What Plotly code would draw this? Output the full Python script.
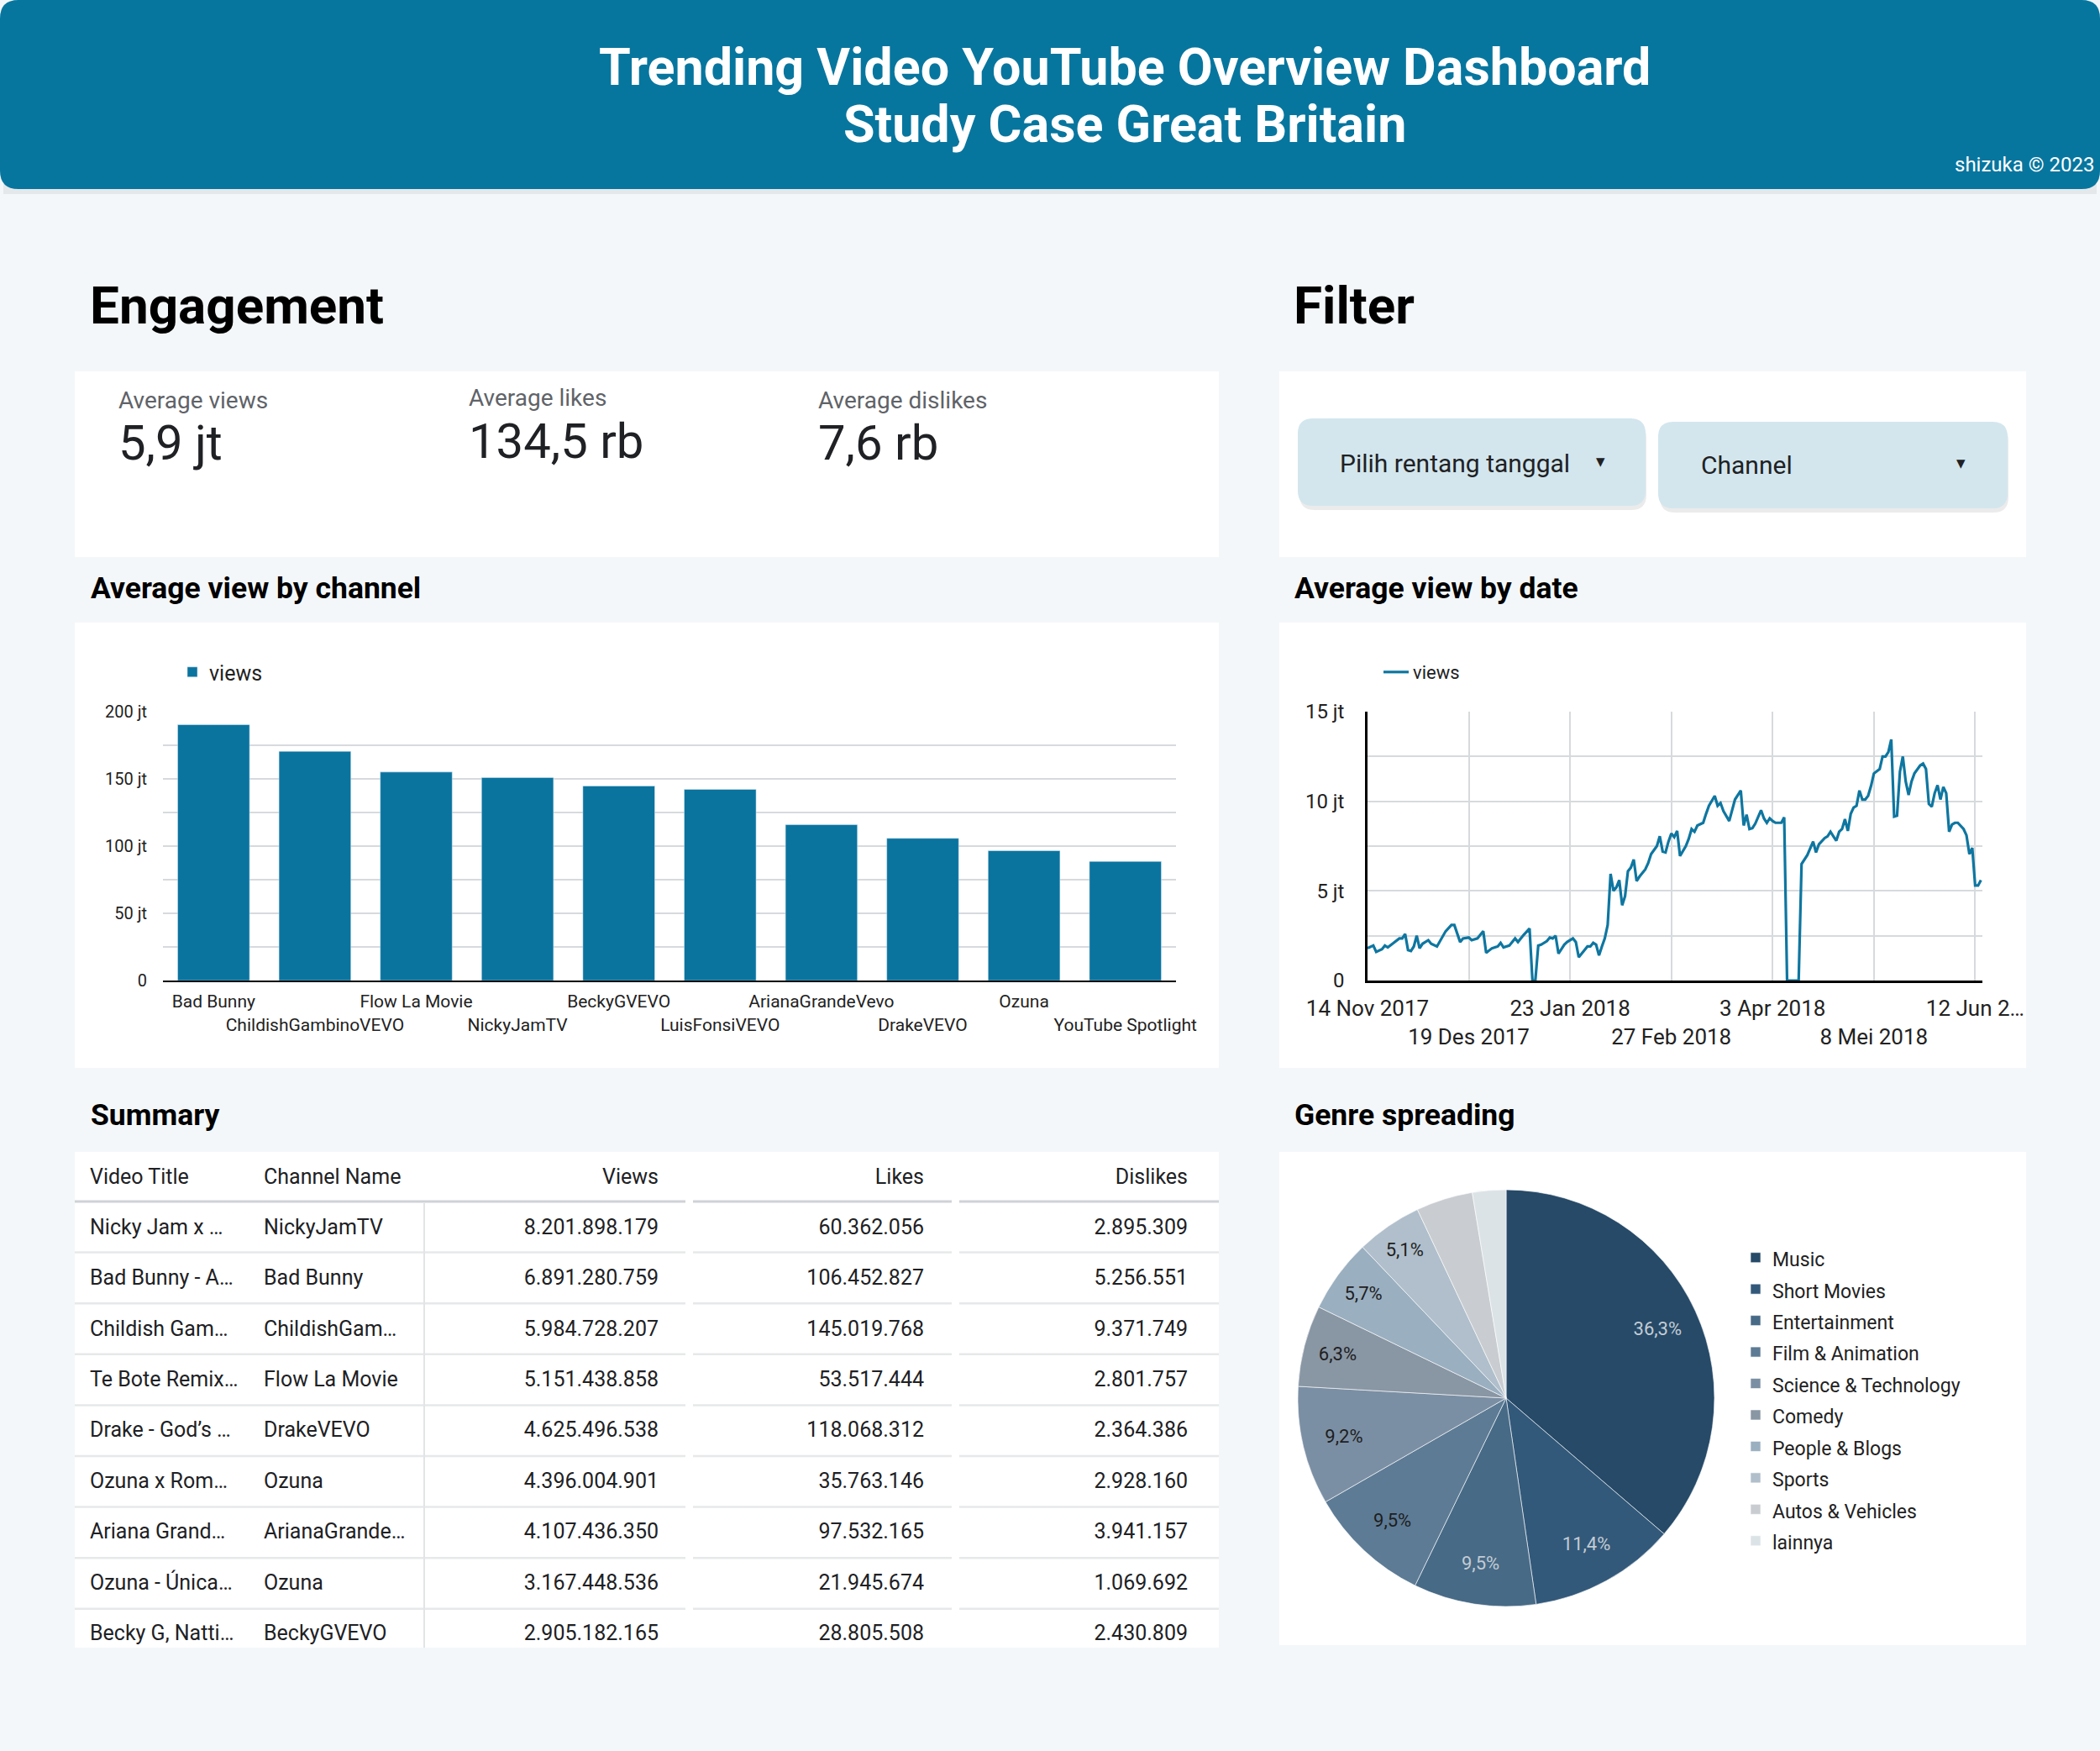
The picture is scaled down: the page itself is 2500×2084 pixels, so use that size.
import plotly.graph_objects as go

W, H = 2500, 2084
FONT = "Roboto"


def px(x):
    return x / W


def py(y):
    return 1 - y / H


# ---------------- DATA ----------------
kpi_labels = ["Average views", "Average likes", "Average dislikes"]
kpi_values = ["5,9 jt", "134,5 rb", "7,6 rb"]

channels = ["Bad Bunny", "ChildishGambinoVEVO", "Flow La Movie", "NickyJamTV", "BeckyGVEVO",
            "LuisFonsiVEVO", "ArianaGrandeVevo", "DrakeVEVO", "Ozuna", "YouTube Spotlight"]
channel_views_jt = [190.3, 170.5, 155.1, 151.0, 144.7, 142.2, 115.9, 105.8, 96.6, 88.6]
bar_tick_vals = [0, 25, 50, 75, 100, 125, 150, 175, 200]
bar_tick_text = ["0", "", "50 jt", "", "100 jt", "", "150 jt", "", "200 jt"]

dates = [
    "2017-11-14", "2017-11-16", "2017-11-17", "2017-11-19", "2017-11-20", "2017-11-21", "2017-11-23",
    "2017-11-25", "2017-11-26", "2017-11-27", "2017-11-28", "2017-11-29", "2017-11-30", "2017-12-01",
    "2017-12-02", "2017-12-03", "2017-12-05", "2017-12-06", "2017-12-08", "2017-12-09", "2017-12-11",
    "2017-12-13", "2017-12-14", "2017-12-16", "2017-12-17", "2017-12-19", "2017-12-20", "2017-12-22",
    "2017-12-24", "2017-12-25", "2017-12-27", "2017-12-29", "2017-12-30", "2017-12-31", "2018-01-02",
    "2018-01-04", "2018-01-05", "2018-01-07", "2018-01-08", "2018-01-09", "2018-01-10", "2018-01-11",
    "2018-01-12", "2018-01-13", "2018-01-15", "2018-01-16", "2018-01-17", "2018-01-18", "2018-01-19",
    "2018-01-21", "2018-01-22", "2018-01-24", "2018-01-25", "2018-01-26", "2018-01-28", "2018-01-29",
    "2018-01-30", "2018-01-31", "2018-02-01", "2018-02-02", "2018-02-03", "2018-02-04", "2018-02-05",
    "2018-02-06", "2018-02-07", "2018-02-08", "2018-02-09", "2018-02-10", "2018-02-11", "2018-02-12",
    "2018-02-13", "2018-02-14", "2018-02-15", "2018-02-16", "2018-02-18", "2018-02-19", "2018-02-20",
    "2018-02-22", "2018-02-23", "2018-02-24", "2018-02-25", "2018-02-26", "2018-02-27", "2018-02-28",
    "2018-03-01", "2018-03-02", "2018-03-04", "2018-03-05", "2018-03-06", "2018-03-07", "2018-03-08",
    "2018-03-10", "2018-03-11", "2018-03-12", "2018-03-14", "2018-03-15", "2018-03-16", "2018-03-17",
    "2018-03-19", "2018-03-20", "2018-03-21", "2018-03-23", "2018-03-24", "2018-03-25", "2018-03-26",
    "2018-03-27", "2018-03-28", "2018-03-30", "2018-03-31", "2018-04-01", "2018-04-02", "2018-04-03",
    "2018-04-04", "2018-04-05", "2018-04-06", "2018-04-07", "2018-04-08", "2018-04-09", "2018-04-10",
    "2018-04-11", "2018-04-12", "2018-04-13", "2018-04-15", "2018-04-17", "2018-04-18", "2018-04-19",
    "2018-04-21", "2018-04-22", "2018-04-23", "2018-04-24", "2018-04-25", "2018-04-26", "2018-04-27",
    "2018-04-28", "2018-04-29", "2018-04-30", "2018-05-01", "2018-05-02", "2018-05-03", "2018-05-04",
    "2018-05-05", "2018-05-06", "2018-05-07", "2018-05-08", "2018-05-10", "2018-05-11", "2018-05-12",
    "2018-05-13", "2018-05-14", "2018-05-15", "2018-05-16", "2018-05-17", "2018-05-18", "2018-05-19",
    "2018-05-20", "2018-05-21", "2018-05-22", "2018-05-24", "2018-05-25", "2018-05-26", "2018-05-27",
    "2018-05-28", "2018-05-29", "2018-05-30", "2018-05-31", "2018-06-01", "2018-06-02", "2018-06-03",
    "2018-06-04", "2018-06-05", "2018-06-06", "2018-06-08", "2018-06-09", "2018-06-10", "2018-06-11",
    "2018-06-12", "2018-06-13", "2018-06-14",
]
avg_views_jt = [
    1.8, 1.95, 1.6, 1.75, 1.95, 1.85, 2.1,
    2.35, 2.35, 2.6, 1.7, 1.65, 1.9, 2.5,
    1.8, 2.05, 2.25, 2.05, 1.9, 2.2, 2.75,
    3.1, 3.1, 2.15, 2.35, 2.4, 2.25, 2.35,
    2.75, 1.55, 1.8, 1.9, 2.1, 1.85, 1.95,
    2.35, 2.15, 2.55, 2.7, 2.9, 0.0, 0.0,
    1.95, 2.0, 2.2, 2.4, 2.35, 2.5, 1.5,
    2.0, 2.15, 2.35, 2.15, 1.3, 1.7, 1.9,
    1.9, 2.1, 2.0, 1.4, 1.9, 2.35, 3.1,
    5.95, 5.0, 5.2, 5.6, 4.2, 4.7, 6.1,
    6.3, 6.75, 5.55, 5.8, 6.2, 6.55, 7.05,
    7.5, 8.05, 7.2, 7.15, 7.75, 8.2, 8.0,
    8.35, 6.95, 7.5, 7.9, 8.45, 8.3, 8.65,
    8.8, 9.3, 9.75, 10.3, 9.75, 9.9, 9.45,
    8.9, 9.45, 10.1, 10.6, 8.65, 9.25, 8.45,
    8.5, 8.75, 9.5, 9.05, 8.8, 9.05, 8.9,
    8.8, 8.8, 8.8, 9.1, 0.0, 0.0, 0.0,
    0.0, 0.0, 6.5, 7.0, 7.75, 7.15, 7.6,
    7.95, 8.05, 8.3, 8.05, 7.8, 8.3, 8.45,
    9.0, 8.35, 9.3, 9.65, 9.75, 10.6, 10.1,
    10.1, 10.3, 10.85, 11.55, 11.8, 12.5, 12.5,
    12.75, 13.45, 9.15, 9.2, 11.65, 12.5, 11.1,
    10.35, 11.1, 11.55, 12.0, 12.1, 11.8, 9.85,
    9.7, 10.45, 10.9, 10.1, 10.8, 10.45, 8.3,
    8.7, 8.8, 8.8, 8.45, 8.1, 7.05, 7.4,
    5.3, 5.3, 5.6,
]
date_tick_vals = ["2017-11-14", "2017-12-19", "2018-01-23", "2018-02-27", "2018-04-03", "2018-05-08", "2018-06-12"]
date_tick_text = ["14 Nov 2017", "19 Des 2017", "23 Jan 2018", "27 Feb 2018", "3 Apr 2018", "8 Mei 2018", "12 Jun 2…"]
line_tick_vals = [0, 2.5, 5, 7.5, 10, 12.5, 15]
line_tick_text = ["0", "", "5 jt", "", "10 jt", "", "15 jt"]

table_headers = ["Video Title", "Channel Name", "Views", "Likes", "Dislikes"]
video_titles = ["Nicky Jam x …", "Bad Bunny - A…", "Childish Gam…", "Te Bote Remix…", "Drake - God’s …",
                "Ozuna x Rom…", "Ariana Grand…", "Ozuna - Única…", "Becky G, Natti…"]
channel_names = ["NickyJamTV", "Bad Bunny", "ChildishGam…", "Flow La Movie", "DrakeVEVO",
                 "Ozuna", "ArianaGrande…", "Ozuna", "BeckyGVEVO"]
views = [8201898179, 6891280759, 5984728207, 5151438858, 4625496538, 4396004901, 4107436350, 3167448536, 2905182165]
likes = [60362056, 106452827, 145019768, 53517444, 118068312, 35763146, 97532165, 21945674, 28805508]
dislikes = [2895309, 5256551, 9371749, 2801757, 2364386, 2928160, 3941157, 1069692, 2430809]

genres = ["Music", "Short Movies", "Entertainment", "Film & Animation", "Science & Technology",
          "Comedy", "People & Blogs", "Sports", "Autos & Vehicles", "lainnya"]
genre_share = [36.3, 11.4, 9.5, 9.5, 9.2, 6.3, 5.7, 5.1, 4.4, 2.6]

# ---------------- STYLE ----------------
BG = "#f4f7f9"
HEADER = "#07769f"
BAR = "#0a749f"
LINE = "#0e76a0"
GRID = "#d7dadd"
genre_colors = ["#264a68", "#33597a", "#476a86", "#5d7b95", "#7b8fa4",
                "#8996a4", "#9aafc0", "#b0bfcb", "#c9cdd1", "#dce3e7"]
genre_text_colors = ["#c3ccd4", "#c3ccd4", "#c3ccd4"] + ["#1e1e1e"] * 7


def fmt_id(n):
    return f"{n:,}".replace(",", ".")


def nb(s):
    return s.replace(" ", "\u00a0")


def rounded(x0, y0, x1, y1, r):
    rx, ry = r / W, r / H
    X0, X1, Y0, Y1 = px(x0), px(x1), py(y0), py(y1)
    return (f"M {X0+rx},{Y0} L {X1-rx},{Y0} Q {X1},{Y0} {X1},{Y0-ry} "
            f"L {X1},{Y1+ry} Q {X1},{Y1} {X1-rx},{Y1} L {X0+rx},{Y1} "
            f"Q {X0},{Y1} {X0},{Y1+ry} L {X0},{Y0-ry} Q {X0},{Y0} {X0+rx},{Y0} Z")


fig = go.Figure()

# Bar chart
fig.add_trace(go.Bar(
    x=channels, y=channel_views_jt, name="views", marker_color=BAR,
    xaxis="x", yaxis="y", legend="legend", showlegend=True,
))

# Line chart
fig.add_trace(go.Scatter(
    x=dates, y=avg_views_jt, mode="lines", name="views",
    line=dict(color=LINE, width=3.2), xaxis="x2", yaxis="y2",
    legend="legend2", showlegend=True,
))

# Pie: coloured disc + transparent ring that only carries the labels (~0.8 of the radius)
pie_domain = dict(x=[px(1545), px(2041)], y=[py(1912), py(1416)])
legend_labels = [f"<span style='font-size:23px'>{g}</span>" for g in genres]
fig.add_trace(go.Pie(
    labels=legend_labels, values=genre_share, sort=False, direction="clockwise", rotation=0,
    domain=pie_domain, marker=dict(colors=genre_colors, line=dict(color="rgba(255,255,255,0.6)", width=1)),
    textinfo="none", legend="legend3", showlegend=True, hoverinfo="percent", customdata=genres,
    hovertemplate="%{customdata}: %{percent}<extra></extra>",
))
pie_text = ["%{percent:.1%}" if s >= 5 else "" for s in genre_share]
fig.add_trace(go.Pie(
    labels=genres, values=genre_share, sort=False, direction="clockwise", rotation=0, hole=0.6,
    domain=pie_domain,
    marker=dict(colors=["rgba(0,0,0,0)"] * len(genres), line=dict(width=0)),
    texttemplate=pie_text, textposition="inside", insidetextorientation="horizontal",
    insidetextfont=dict(family=FONT, size=22, color=genre_text_colors),
    showlegend=False, hoverinfo="skip",
))

# Table
fig.add_trace(go.Table(
    domain=dict(x=[px(99), px(1422)], y=[py(1989), py(1382)]),
    columnwidth=[207, 199, 287, 316, 314],
    header=dict(values=table_headers, align=["left", "left", "right", "right", "right"],
                height=60, fill_color="white", line=dict(color="white", width=0),
                font=dict(family=FONT, size=25, color="#202124")),
    cells=dict(values=[[nb(t) for t in video_titles], [nb(c) for c in channel_names],
                       [fmt_id(v) for v in views], [fmt_id(v) for v in likes],
                       [fmt_id(v) for v in dislikes]],
               align=["left", "left", "right", "right", "right"],
               height=60.4, fill_color="white", line=dict(color="white", width=0),
               font=dict(family=FONT, size=25, color="#202124")),
))

shapes = []
# header
shapes.append(dict(type="rect", xref="paper", yref="paper", x0=px(4), x1=px(2496), y0=py(231), y1=py(150),
                   fillcolor="rgba(0,0,0,0.06)", line_width=0, layer="below"))
shapes.append(dict(type="path", xref="paper", yref="paper", path=rounded(0, 0, 2500, 225, 22),
                   fillcolor=HEADER, line_width=0, layer="below"))
# white panels
for (x0, y0, x1, y1) in [(89, 442, 1451, 663), (89, 741, 1451, 1271), (89, 1371, 1451, 1961),
                         (1523, 442, 2412, 663), (1523, 741, 2412, 1271), (1523, 1371, 2412, 1958)]:
    shapes.append(dict(type="rect", xref="paper", yref="paper", x0=px(x0), x1=px(x1), y0=py(y1), y1=py(y0),
                       fillcolor="white", line_width=0, layer="below"))
# dropdowns
for (x0, y0, x1, y1) in [(1545, 498, 1959, 602), (1974, 502, 2390, 605)]:
    shapes.append(dict(type="path", xref="paper", yref="paper", path=rounded(x0 + 2, y0 + 5, x1 + 1, y1 + 5, 18),
                       fillcolor="rgba(0,0,0,0.08)", line_width=0, layer="below"))
    shapes.append(dict(type="path", xref="paper", yref="paper", path=rounded(x0, y0, x1, y1, 18),
                       fillcolor="#d3e6ed", line_width=0, layer="below"))

# table separators
row_lines = [1430 + 60.6 * k for k in range(1, 9)]
segs = [(89, 816), (825, 1133), (1142, 1451)]
for a, b in segs:
    shapes.append(dict(type="line", xref="paper", yref="paper", x0=px(a), x1=px(b), y0=py(1430), y1=py(1430),
                       line=dict(color="#cfd2d5", width=3), layer="above"))
    for yl in row_lines:
        shapes.append(dict(type="line", xref="paper", yref="paper", x0=px(a), x1=px(b), y0=py(yl), y1=py(yl),
                           line=dict(color="#e6e8ea", width=2.5), layer="above"))
shapes.append(dict(type="line", xref="paper", yref="paper", x0=px(505), x1=px(505), y0=py(1432), y1=py(1961),
                   line=dict(color="#e2e4e6", width=2), layer="above"))
# page background below the table panel
shapes.append(dict(type="rect", xref="paper", yref="paper", x0=px(80), x1=px(1460), y0=py(2010), y1=py(1961),
                   fillcolor=BG, line_width=0, layer="above"))

annotations = []


def txt(x, y, s, size, color="#202124", anchor="left", weight=400):
    annotations.append(dict(x=px(x), y=py(y), xref="paper", yref="paper", text=s, showarrow=False,
                            xanchor=anchor, yanchor="middle",
                            font=dict(family=FONT, size=size, color=color, weight=weight)))


txt(1339, 80, "Trending Video YouTube Overview Dashboard", 61, "white", "center", 700)
txt(1339, 148, "Study Case Great Britain", 61, "white", "center", 700)
txt(2496, 196, "shizuka © 2023", 24, "white", "right")

txt(105, 364, "Engagement", 62, "#000000", "left", 700)
txt(1538, 364, "Filter", 62, "#000000", "left", 700)
txt(106, 700, "Average view by channel", 35.5, "#000000", "left", 700)
txt(1539, 700, "Average view by date", 35.5, "#000000", "left", 700)
txt(106, 1327, "Summary", 35.5, "#000000", "left", 700)
txt(1539, 1327, "Genre spreading", 35.5, "#000000", "left", 700)

for (x, yl, yv), lab, val in zip([(139, 477, 527), (556, 474, 525), (972, 477, 527)], kpi_labels, kpi_values):
    txt(x, yl, lab, 28, "#5f6368")
    txt(x, yv, val, 58, "#202124")

txt(1593, 551, "Pilih rentang tanggal", 30, "#202124")
txt(1905, 549, "▾", 21, "#202124", "center")
txt(2023, 553, "Channel", 30, "#202124")
txt(2334, 551, "▾", 21, "#202124", "center")

bar_tick_labels = [c if i % 2 == 0 else "<br>" + c for i, c in enumerate(channels)]
date_tick_labels = [t if i % 2 == 0 else "<br>" + t for i, t in enumerate(date_tick_text)]

fig.update_layout(
    width=W, height=H, autosize=False,
    margin=dict(l=0, r=0, t=0, b=0, pad=0, autoexpand=False),
    paper_bgcolor=BG, plot_bgcolor="rgba(0,0,0,0)",
    font=dict(family=FONT, color="#202124"),
    separators=",.",
    bargap=0.29,
    shapes=shapes, annotations=annotations,
    xaxis=dict(domain=[px(194), px(1400)], tickvals=channels, ticktext=bar_tick_labels, tickangle=0,
               tickfont=dict(size=21, color="#222"), showline=True, linecolor="#000", linewidth=2,
               showgrid=False, ticks="", ticklabelstandoff=5, fixedrange=True, automargin=False),
    yaxis=dict(domain=[py(1167), py(847)], range=[0, 200], tickvals=bar_tick_vals, ticktext=bar_tick_text,
               tickfont=dict(size=20, color="#222"), gridcolor=GRID, gridwidth=1.8, zeroline=False,
               showline=False, ticks="", ticklabelstandoff=18, fixedrange=True, automargin=False),
    xaxis2=dict(domain=[px(1628), px(2360)], type="date", range=["2017-11-14", "2018-06-14 12:00"],
                tickvals=date_tick_vals, ticktext=date_tick_labels, anchor="y2", tickangle=0,
                tickfont=dict(size=26, color="#222"), showgrid=True, gridcolor=GRID, gridwidth=1.8,
                showline=True, linecolor="#000", linewidth=2.5, ticks="", ticklabelstandoff=8,
                fixedrange=True, automargin=False),
    yaxis2=dict(domain=[py(1167), py(847)], range=[0, 15], tickvals=line_tick_vals, ticktext=line_tick_text,
                anchor="x2", tickfont=dict(size=24, color="#222"), gridcolor=GRID, gridwidth=1.8,
                zeroline=False, showline=True, linecolor="#000", linewidth=2.5, ticks="",
                ticklabelstandoff=20, fixedrange=True, automargin=False),
    legend=dict(x=px(209), y=py(800), xanchor="left", yanchor="middle", orientation="h",
                font=dict(family=FONT, size=25, color="#222"), bgcolor="rgba(0,0,0,0)"),
    legend2=dict(x=px(1642), y=py(800), xanchor="left", yanchor="middle", orientation="h",
                 font=dict(family=FONT, size=22, color="#222"), bgcolor="rgba(0,0,0,0)"),
    legend3=dict(x=px(2070), y=py(1473), xanchor="left", yanchor="top", orientation="v",
                 font=dict(family=FONT, size=26.5, color="#222"), bgcolor="rgba(0,0,0,0)",
                 tracegroupgap=0),
)

fig.write_html(
    "out.html",
    config={"displayModeBar": False, "responsive": False},
    post_script=(
        "var s='margin:0;padding:0;overflow:hidden;width:2500px;height:2084px;';"
        "document.documentElement.style.cssText=s;document.body.style.cssText=s;"
        "var gd=document.getElementById('{plot_id}');"
        "gd.style.position='absolute';gd.style.left='0px';gd.style.top='0px';"
    ),
)
